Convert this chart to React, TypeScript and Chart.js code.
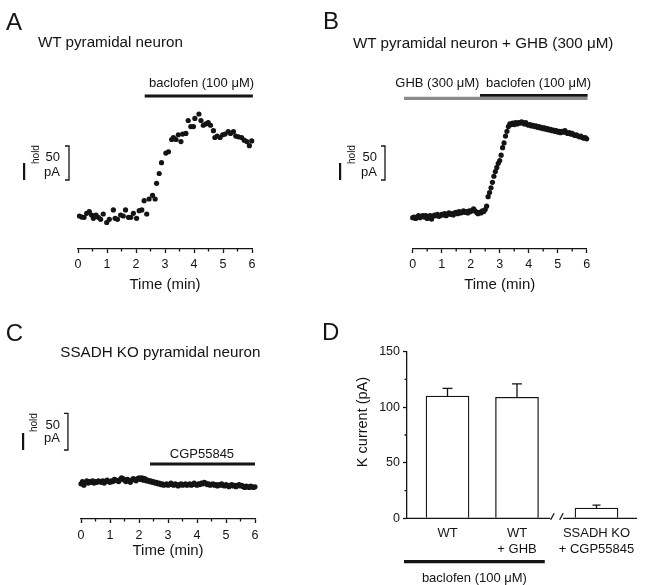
import React, { useEffect, useRef } from 'react';
import { Chart, registerables } from 'chart.js';

Chart.register(...registerables);

const FONT = '"Liberation Sans", Arial, Helvetica, sans-serif';
const INK = '#141414';
const CLEAR = 'rgba(0,0,0,0)';
Chart.defaults.font.family = FONT;
Chart.defaults.color = INK;

// ---------------- data ----------------
const TIME_TICKS = [0, 0.5, 1, 1.5, 2, 2.5, 3, 3.5, 4, 4.5, 5, 5.5, 6];

// Panel A: WT pyramidal neuron, holding current (pA, relative)
const TIME_A = [
  0.05, 0.13, 0.21, 0.3, 0.39, 0.47, 0.53, 0.62, 0.7, 0.78,
  0.87, 0.99, 1.08, 1.22, 1.28, 1.36, 1.47, 1.56, 1.64, 1.74,
  1.82, 1.91, 2.02, 2.11, 2.2, 2.28, 2.37, 2.45, 2.57, 2.66,
  2.71, 2.8, 2.88, 3.03, 3.12, 3.23, 3.29, 3.38, 3.46, 3.55,
  3.61, 3.72, 3.8, 3.89, 3.98, 4.03, 4.17, 4.24, 4.32, 4.41,
  4.49, 4.57, 4.67, 4.72, 4.8, 4.9, 4.99, 5.07, 5.18, 5.26,
  5.36, 5.44, 5.53, 5.64, 5.73, 5.82, 5.91, 5.99,
];
const HOLD_A = [
  -1.5, -3, -3.4, 2.5, 4.9, 0, -4.9, 0, -3.4, -6.4,
  1.5, -11, -6.4, 7.4, -4.9, -6.4, 0, -1.5, 7.4, -3.4,
  -3.4, 2.5, -4.9, 6.4, 7.4, 21, 1.5, 23.5, 29, 23.5,
  46.6, 61, 77, 91, 93, 111, 114, 111, 118, 108,
  119, 120, 139, 130, 130, 142, 148.5, 139, 132, 134,
  136, 132, 124, 114, 116, 114, 118, 119, 122.5, 120,
  122.5, 116, 115, 114, 110, 108, 102, 109,
];

// Panels B and C: sampled every 0.05 min from 0 to 6 min
const SAMPLE_STEP_MIN = 0.05;
const HOLD_B = [
  -4, -3, -5, -3, -1, -4, -2, -1, -3, -1,
  -5, -2, -1, -6, -2, 0, -1, 1, -2, -1,
  1, 0, 2, -1, 1, 3, 1, 2, 0, 3,
  4, 2, 5, 3, 4, 6, 4, 5, 3, 6,
  5, 7, 9, 6, 4, 2, 4, 3, 6, 5,
  8, 13, 27, 33, 40, 48, 57, 64, 70, 76,
  80, 88, 99, 106, 116, 123, 130, 134, 133, 135,
  133, 136, 134, 136, 135, 137, 136, 134, 136, 133,
  132, 133, 131, 132, 130, 131, 129, 130, 128, 129,
  127, 128, 126, 127, 125, 126, 124, 125, 123, 124,
  122, 123, 121, 123, 122, 124, 121, 120, 121, 119,
  120, 118, 117, 118, 116, 115, 116, 114, 113, 114,
  112,
];
const HOLD_C = [
  -2, 1, -4, 0, 2, -1, 1, 0, 2, -1,
  1, 0, 2, 1, 0, 2, -1, 1, 3, 1,
  0, 2, 1, 4, 3, 2, 1, 4, 6, 5,
  3, 1, 4, 2, 0, 3, 5, 4, 2, 5,
  6, 4, 6, 3, 5, 2, 3, 1, 2, 0,
  1, -1, 0, -2, -1, -3, -2, -4, -3, -2,
  -4, -3, -1, -3, -4, -2, -3, -5, -3, -2,
  -4, -3, -2, -4, -3, -2, -4, -3, -1, -3,
  -4, -2, -3, -1, -2, 0, -1, -3, -2, -4,
  -3, -2, -4, -3, -5, -3, -4, -2, -4, -5,
  -3, -4, -6, -4, -3, -5, -4, -6, -4, -3,
  -5, -4, -6, -7, -5, -6, -7, -5, -6, -7,
  -6,
];

// drug application periods (min)
const BACLOFEN_A = [2.3, 6.03];
const GHB_B = [-0.3, 6.03];
const BACLOFEN_B = [2.32, 6.03];
const CGP_C = [2.38, 6.0];

// Panel D: K current (pA)
const K_LABELS = [['WT'], ['WT', '+ GHB'], ['SSADH KO', '+ CGP55845']];
const K_POSITIONS = [1, 2, 3.144];
const K_MEAN = [110, 109, 9.3];
const K_SEM = [7, 12, 2.5];
const K_Y_TICKS = [0, 25, 50, 75, 100, 125, 150];
const K_Y_LABELLED = [0, 50, 100, 150];
const K_AXIS_BREAK = 2.578;
const BACLOFEN_D = [0.374, 2.4];

// ---------------- plugins ----------------
type Drug = { span: number[]; level: number; color: string; width: number; label: string; labelAt: number; labelGap: number };
type Decor = { drugs: Drug[]; scaleBar: { t: number; from: number; size: number; textRight: number; text50: number; textPA: number; holdUp: number } };

function makeTraceDecor(cfg: Decor) {
  return {
    id: 'traceDecor',
    afterDraw(chart: any) {
      const { ctx, chartArea } = chart;
      const x = chart.scales.x;
      const y = chart.scales.y;
      ctx.save();
      // minor (half-minute) ticks, shorter than the major ones
      ctx.strokeStyle = INK;
      ctx.lineWidth = 1.3;
      ctx.beginPath();
      TIME_TICKS.filter((v) => !Number.isInteger(v)).forEach((v) => {
        const px = x.getPixelForValue(v);
        ctx.moveTo(px, chartArea.bottom);
        ctx.lineTo(px, chartArea.bottom + 2.6);
      });
      ctx.stroke();
      cfg.drugs.forEach((d) => {
        const x1 = x.getPixelForValue(d.span[0]);
        const x2 = x.getPixelForValue(d.span[1]);
        const yy = y.getPixelForValue(d.level);
        ctx.strokeStyle = d.color;
        ctx.lineWidth = d.width;
        ctx.lineCap = 'butt';
        ctx.beginPath();
        ctx.moveTo(x1, yy);
        ctx.lineTo(x2, yy);
        ctx.stroke();
      });
      cfg.drugs.forEach((d) => {
        const yy = y.getPixelForValue(d.level);
        ctx.fillStyle = INK;
        ctx.font = `13px ${FONT}`;
        ctx.textAlign = 'center';
        ctx.textBaseline = 'alphabetic';
        ctx.fillText(d.label, x.getPixelForValue(d.labelAt), yy - d.labelGap);
      });
      const sb = cfg.scaleBar;
      const sx = x.getPixelForValue(sb.t);
      const sTop = y.getPixelForValue(sb.from + sb.size);
      const sBot = y.getPixelForValue(sb.from);
      const mid = (sTop + sBot) / 2;
      ctx.strokeStyle = INK;
      ctx.lineWidth = 1.3;
      ctx.beginPath();
      ctx.moveTo(sx - 4, sTop);
      ctx.lineTo(sx, sTop);
      ctx.lineTo(sx, sBot);
      ctx.lineTo(sx - 4, sBot);
      ctx.stroke();
      ctx.fillStyle = INK;
      ctx.font = `13px ${FONT}`;
      ctx.textAlign = 'right';
      ctx.textBaseline = 'alphabetic';
      ctx.fillText(String(sb.size), sx - sb.textRight, mid + sb.text50);
      ctx.fillText('pA', sx - sb.textRight, mid + sb.textPA);
      ctx.textAlign = 'left';
      ctx.font = `24px ${FONT}`;
      ctx.fillText('I', sx - 48.2, sBot);
      ctx.save();
      ctx.translate(sx - 30.5, sBot - sb.holdUp);
      ctx.rotate(-Math.PI / 2);
      ctx.font = `10px ${FONT}`;
      ctx.fillText('hold', 0, 0);
      ctx.restore();
      ctx.restore();
    },
  };
}

const kDecor = {
  id: 'kDecor',
  afterDraw(chart: any) {
    const { ctx, chartArea } = chart;
    const x = chart.scales.x;
    const y = chart.scales.y;
    ctx.save();
    ctx.strokeStyle = INK;
    ctx.fillStyle = INK;
    ctx.lineWidth = 1.3;
    // minor y ticks
    ctx.beginPath();
    K_Y_TICKS.filter((v) => !K_Y_LABELLED.includes(v)).forEach((v) => {
      const py = y.getPixelForValue(v);
      ctx.moveTo(chartArea.left, py);
      ctx.lineTo(chartArea.left - 2.5, py);
    });
    ctx.stroke();
    // error bars
    K_POSITIONS.forEach((p, i) => {
      const px = x.getPixelForValue(p);
      const y1 = y.getPixelForValue(K_MEAN[i]);
      const y2 = y.getPixelForValue(K_MEAN[i] + K_SEM[i]);
      const half = i === 2 ? 4 : 5;
      ctx.beginPath();
      ctx.moveTo(px, y1);
      ctx.lineTo(px, y2);
      ctx.moveTo(px - half, y2);
      ctx.lineTo(px + half, y2);
      ctx.stroke();
    });
    // broken x axis
    const yb = y.getPixelForValue(0);
    const bx = x.getPixelForValue(K_AXIS_BREAK);
    ctx.beginPath();
    ctx.moveTo(chartArea.left, yb);
    ctx.lineTo(bx - 7, yb);
    ctx.moveTo(bx + 6, yb);
    ctx.lineTo(chartArea.right, yb);
    ctx.moveTo(bx - 6.5, yb + 1.5);
    ctx.lineTo(bx - 3, yb - 5);
    ctx.moveTo(bx + 2.5, yb + 1.5);
    ctx.lineTo(bx + 6, yb - 5);
    ctx.stroke();
    // baclofen bar under the WT groups
    const by = yb + 43.4;
    ctx.lineWidth = 3.3;
    ctx.beginPath();
    ctx.moveTo(x.getPixelForValue(BACLOFEN_D[0]), by);
    ctx.lineTo(x.getPixelForValue(BACLOFEN_D[1]), by);
    ctx.stroke();
    ctx.font = `13px ${FONT}`;
    ctx.textAlign = 'center';
    ctx.textBaseline = 'alphabetic';
    ctx.fillText('baclofen (100 μM)', x.getPixelForValue((BACLOFEN_D[0] + BACLOFEN_D[1]) / 2), by + 20);
    // y title
    ctx.save();
    ctx.translate(chartArea.left - 44, y.getPixelForValue(86.7));
    ctx.rotate(-Math.PI / 2);
    ctx.textBaseline = 'middle';
    ctx.font = `14.5px ${FONT}`;
    ctx.fillText('K current (pA)', 0, 0);
    ctx.restore();
    ctx.restore();
  },
};

// ---------------- chart builders ----------------
type Area = { left: number; right: number; top: number; bottom: number; axisH: number; tickPad: number };

function traceChart(canvas: HTMLCanvasElement, pts: { x: number; y: number }[], area: Area, decor: Decor) {
  return new Chart(canvas, {
    type: 'scatter',
    data: {
      datasets: [
        {
          data: pts,
          pointRadius: 2.6,
          pointBackgroundColor: INK,
          pointBorderWidth: 0,
          showLine: false,
          clip: false as any,
        },
      ],
    },
    options: {
      responsive: false,
      animation: false,
      events: [],
      layout: { padding: { left: area.left, right: 645 - area.right, top: area.top, bottom: 585 - area.bottom - area.axisH } },
      plugins: { legend: { display: false }, tooltip: { enabled: false } },
      scales: {
        x: {
          type: 'linear',
          min: 0,
          max: 6,
          afterBuildTicks: (s: any) => {
            s.ticks = TIME_TICKS.map((v) => ({ value: v }));
          },
          ticks: {
            autoSkip: false,
            maxRotation: 0,
            padding: area.tickPad,
            color: INK,
            font: { size: 12.5 },
            callback: (v: any) => (Number.isInteger(v) ? String(v) : ''),
          },
          grid: {
            display: true,
            drawOnChartArea: false,
            tickLength: 4,
            tickColor: (c: any) => (c.tick && Number.isInteger(c.tick.value) ? INK : CLEAR),
            tickWidth: 1.3,
            color: INK,
          },
          border: { display: true, color: INK, width: 1.3 },
          title: { display: true, text: 'Time (min)', color: INK, font: { size: 15 }, padding: 0 },
          afterFit: (s: any) => {
            s.height = area.axisH;
          },
        },
        y: { display: false, min: -50, max: 200 },
      },
    },
    plugins: [makeTraceDecor(decor)],
  } as any);
}

function barChart(canvas: HTMLCanvasElement) {
  return new Chart(canvas, {
    type: 'bar',
    data: {
      datasets: [
        {
          data: K_POSITIONS.map((p, i) => ({ x: p, y: K_MEAN[i] })),
          backgroundColor: '#ffffff',
          borderColor: INK,
          borderWidth: 1.3,
          barThickness: 43,
        },
      ],
    },
    options: {
      responsive: false,
      animation: false,
      events: [],
      layout: { padding: { left: 355, right: 8, top: 351.7, bottom: 26.7 } },
      plugins: { legend: { display: false }, tooltip: { enabled: false } },
      scales: {
        x: {
          type: 'linear',
          min: 0.417,
          max: 3.727,
          offset: false,
          afterBuildTicks: (s: any) => {
            s.ticks = K_POSITIONS.map((v) => ({ value: v }));
          },
          ticks: {
            autoSkip: false,
            maxRotation: 0,
            padding: 7.5,
            color: INK,
            font: { size: 13 },
            callback: (_v: any, i: number) => K_LABELS[i],
          },
          grid: { display: false, drawTicks: false },
          border: { display: false },
          afterFit: (s: any) => {
            s.height = 40;
          },
        },
        y: {
          min: 0,
          max: 150,
          afterBuildTicks: (s: any) => {
            s.ticks = K_Y_TICKS.map((v) => ({ value: v }));
          },
          ticks: {
            padding: 3,
            color: INK,
            font: { size: 12.5 },
            callback: (v: any) => (K_Y_LABELLED.includes(v) ? String(v) : ''),
          },
          grid: {
            drawOnChartArea: false,
            tickLength: 4,
            tickColor: (c: any) => (c.tick && K_Y_LABELLED.includes(c.tick.value) ? INK : CLEAR),
            tickWidth: 1.3,
            color: INK,
          },
          border: { display: true, color: INK, width: 1.3 },
          afterFit: (s: any) => {
            s.width = 52;
          },
        },
      },
    },
    plugins: [kDecor],
  } as any);
}

// ---------------- component ----------------
const canvasStyle: React.CSSProperties = { position: 'absolute', left: 0, top: 0 };

function Label({ text, left, top, size }: { text: string; left: number; top: number; size: number }) {
  return (
    <div
      style={{
        position: 'absolute',
        left,
        top,
        fontFamily: FONT,
        fontSize: size,
        lineHeight: `${size}px`,
        color: INK,
        whiteSpace: 'nowrap',
      }}
    >
      {text}
    </div>
  );
}

export default function App() {
  const refA = useRef<HTMLCanvasElement>(null);
  const refB = useRef<HTMLCanvasElement>(null);
  const refC = useRef<HTMLCanvasElement>(null);
  const refD = useRef<HTMLCanvasElement>(null);

  useEffect(() => {
    const ptsA = TIME_A.map((t, i) => ({ x: t, y: HOLD_A[i] }));
    const ptsB = HOLD_B.map((v, i) => ({ x: i * SAMPLE_STEP_MIN, y: v }));
    const ptsC = HOLD_C.map((v, i) => ({ x: i * SAMPLE_STEP_MIN, y: v }));
    const charts = [
      traceChart(refA.current!, ptsA, { left: 78, right: 252, top: 79, bottom: 249, axisH: 45, tickPad: 4 }, {
        drugs: [{ span: BACLOFEN_A, level: 175, color: INK, width: 3, label: 'baclofen (100 μM)', labelAt: 4.26, labelGap: 9 }],
        scaleBar: { t: -0.31, from: 51.5, size: 50, textRight: 9, text50: -2, textPA: 13.5, holdUp: 16 },
      }),
      traceChart(refB.current!, ptsB, { left: 412.7, right: 586.7, top: 79, bottom: 249, axisH: 45, tickPad: 4 }, {
        drugs: [
          { span: GHB_B, level: 171.5, color: '#8a8a8a', width: 3.4, label: 'GHB (300 μM)', labelAt: 0.85, labelGap: 11 },
          { span: BACLOFEN_B, level: 176, color: INK, width: 2.8, label: 'baclofen (100 μM)', labelAt: 4.34, labelGap: 8 },
        ],
        scaleBar: { t: -0.955, from: 51.5, size: 50, textRight: 8, text50: -2, textPA: 13.5, holdUp: 16 },
      }),
      traceChart(refC.current!, ptsC, { left: 81, right: 255, top: 335.7, bottom: 519, axisH: 41, tickPad: 5 }, {
        drugs: [{ span: CGP_C, level: 25, color: INK, width: 3, label: 'CGP55845', labelAt: 4.17, labelGap: 6 }],
        scaleBar: { t: -0.45, from: 44.1, size: 50, textRight: 8, text50: -3, textPA: 10, holdUp: 18 },
      }),
      barChart(refD.current!),
    ];
    return () => charts.forEach((c) => c.destroy());
  }, []);

  return (
    <div style={{ position: 'absolute', left: 0, top: 0, width: 645, height: 585, background: '#fff', overflow: 'hidden' }}>
      <canvas ref={refA} width={645} height={585} style={canvasStyle} />
      <canvas ref={refB} width={645} height={585} style={canvasStyle} />
      <canvas ref={refC} width={645} height={585} style={canvasStyle} />
      <canvas ref={refD} width={645} height={585} style={canvasStyle} />
      <Label text="A" left={6} top={9.7} size={24} />
      <Label text="B" left={323} top={9} size={24} />
      <Label text="C" left={5.8} top={320.7} size={24} />
      <Label text="D" left={322} top={320.4} size={24} />
      <Label text="WT pyramidal neuron" left={38} top={34.4} size={15.2} />
      <Label text="WT pyramidal neuron + GHB (300 μM)" left={353} top={34.8} size={15.2} />
      <Label text="SSADH KO pyramidal neuron" left={60.3} top={344.4} size={15.2} />
    </div>
  );
}
